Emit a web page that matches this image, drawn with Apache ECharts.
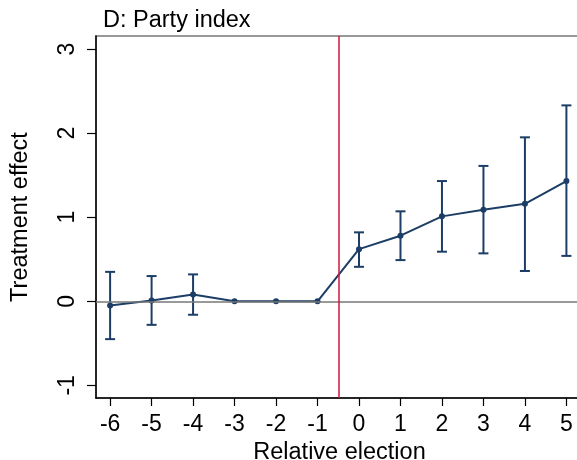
<!DOCTYPE html>
<html>
<head>
<meta charset="utf-8">
<script src="https://cdn.jsdelivr.net/npm/echarts@6/dist/echarts.min.js"></script>
<style>
html,body{margin:0;padding:0;background:#fff;}
#main{width:577px;height:460px;}
</style>
</head>
<body>
<div id="main"></div>
<script>
// 相对选举期数
var elections = [-6, -5, -4, -3, -2, -1, 0, 1, 2, 3, 4, 5];
// 处理效应点估计
var coef = [-0.05, 0.01, 0.08, 0, 0, 0, 0.62, 0.78, 1.01, 1.09, 1.16, 1.43];
// 置信区间
var ciLow = [-0.45, -0.28, -0.16, null, null, null, 0.41, 0.49, 0.59, 0.57, 0.36, 0.54];
var ciHigh = [0.35, 0.30, 0.32, null, null, null, 0.82, 1.07, 1.43, 1.61, 1.95, 2.33];
var yTicks = [-1, 0, 1, 2, 3];

var navy = '#1c3d66';
var font = '"Liberation Sans", Arial, sans-serif';

var lineData = [];
var barData = [];
for (var i = 0; i < elections.length; i++) {
	lineData.push([elections[i], coef[i]]);
	if (ciLow[i] != null) {
		barData.push([elections[i], ciLow[i], ciHigh[i]]);
	}
}

var myChart = echarts.init(document.getElementById('main'));
var option = {
	backgroundColor: '#fff',
	animation: false,
	title: {
		text: 'D: Party index',
		left: 98,
		top: 4,
		textStyle: {fontFamily: font, fontSize: 23.5, fontWeight: 'normal', color: '#000'}
	},
	grid: {
		left: 96, top: 36, width: 487, height: 362,
		outerBoundsMode: 'none',
		containLabel: false,
		show: true, borderColor: '#777', borderWidth: 1.5, backgroundColor: '#fff'
	},
	xAxis: {
		type: 'value',
		min: -6.34,
		max: 5.4,
		name: 'Relative election',
		nameLocation: 'middle',
		nameGap: 43,
		nameTextStyle: {fontFamily: font, fontSize: 23.5, color: '#000'},
		axisLine: {show: true, onZero: false, lineStyle: {color: '#000', width: 1.5}},
		axisTick: {show: true, length: 8, customValues: elections, lineStyle: {color: '#000', width: 1.2}},
		axisLabel: {customValues: elections, margin: 15, fontFamily: font, fontSize: 23, color: '#000'},
		splitLine: {show: false}
	},
	yAxis: {
		type: 'value',
		min: -1.15,
		max: 3.155,
		name: 'Treatment effect',
		nameLocation: 'middle',
		nameGap: 63,
		nameTextStyle: {fontFamily: font, fontSize: 23.5, color: '#000'},
		axisLine: {show: true, onZero: false, lineStyle: {color: '#000', width: 1.5}},
		axisTick: {show: true, length: 9, customValues: yTicks, lineStyle: {color: '#000', width: 1.2}},
		axisLabel: {customValues: yTicks, rotate: 90, margin: 17, fontFamily: font, fontSize: 23, color: '#000'},
		splitLine: {show: false}
	},
	series: [
		{
			type: 'line',
			data: lineData,
			symbol: 'circle',
			symbolSize: 6,
			z: 4,
			lineStyle: {color: navy, width: 2},
			itemStyle: {color: navy},
			markLine: {
				silent: true,
				symbol: 'none',
				label: {show: false},
				data: [
					{yAxis: 0, lineStyle: {color: '#777', width: 1.5, type: 'solid'}},
					{xAxis: -0.5, lineStyle: {color: '#d2143c', width: 1.5, type: 'solid'}}
				]
			}
		},
		{
			type: 'custom',
			data: barData,
			z: 3,
			renderItem: function(params, api) {
				var x = api.value(0);
				var lo = api.coord([x, api.value(1)]);
				var hi = api.coord([x, api.value(2)]);
				var w = 5;
				var st = {stroke: navy, lineWidth: 2, fill: null};
				return {
					type: 'group',
					children: [
						{type: 'line', shape: {x1: lo[0], y1: lo[1], x2: hi[0], y2: hi[1]}, style: st},
						{type: 'line', shape: {x1: lo[0] - w, y1: lo[1], x2: lo[0] + w, y2: lo[1]}, style: st},
						{type: 'line', shape: {x1: hi[0] - w, y1: hi[1], x2: hi[0] + w, y2: hi[1]}, style: st}
					]
				};
			}
		}
	]
};
myChart.setOption(option);
</script>
</body>
</html>
